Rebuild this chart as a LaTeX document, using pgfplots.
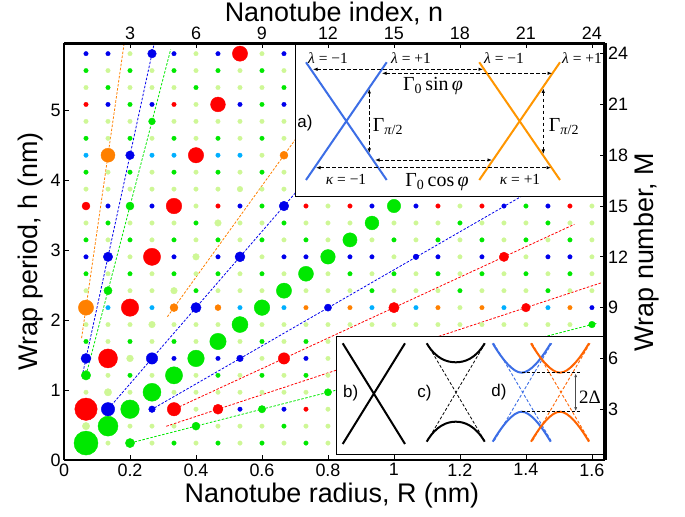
\documentclass[border=0pt]{standalone}
\usepackage[no-math]{fontspec}
\setmainfont{Liberation Sans}
\newfontfamily\tms{Liberation Serif}
\usepackage{pgfplots}
\pgfplotsset{compat=1.18}
\usepackage{pgfplotstable}
\usetikzlibrary{arrows.meta}
\definecolor{cG}{RGB}{0,232,0}
\definecolor{cL}{RGB}{206,247,150}
\definecolor{cR}{RGB}{255,0,0}
\definecolor{cB}{RGB}{0,0,235}
\definecolor{cO}{RGB}{255,128,0}
\definecolor{cC}{RGB}{0,175,255}
\definecolor{iB}{RGB}{60,110,230}
\definecolor{iO}{RGB}{255,150,0}
\definecolor{iO2}{RGB}{255,100,0}
\pgfplotsset{myax/.style={scale only axis, width=540.7bp, height=416.5bp,
  xmin=0, xmax=24.58, ymin=0, ymax=24.6, at={(64bp,57bp)}, anchor=south west}}
\pgfplotsset{bigdots/.style={scatter, only marks, mark=*,
  scatter/use mapped color={draw=#1, fill=#1},
  visualization depends on={\thisrow{r}\as\rad},
  scatter/@pre marker code/.append style={/tikz/mark size=\rad bp}}}
\pgfplotsset{smalldots/.style={only marks, mark=*, mark size=2.3bp, color=#1, mark options={line width=0.2bp}}}
\tikzset{dl/.style={line width=0.8bp, dash pattern=on 2.5bp off 1.6bp}}
\begin{document}
\begin{tikzpicture}
\path[use as bounding box] (0,0) rectangle (685bp,517bp);
\begin{axis}[myax, hide axis]
% dashed guide lines
\addplot[dl, cO] coordinates {(0.8,7.2) (2.8,25.2)};
\addplot[dl, cB] coordinates {(0.82,4.92) (4.2,25.2)};
\addplot[dl, cG] coordinates {(1.05,5.25) (4.85,24.25)};
\addplot[dl, cO] coordinates {(4.7,8.46) (11.5,20.7)};
\addplot[dl, cB] coordinates {(2.15,3.225) (11.5,17.25)};
\addplot[dl, cB] coordinates {(3.95,2.96) (21.5,16.1)};
\addplot[dl, cR] coordinates {(4.9,2.94) (23.2,13.92)};
\addplot[dl, cR] coordinates {(4.65,1.993) (24.4,10.457)};
\addplot[dl, cG] coordinates {(3.2,1.067) (24.2,8.067)};
% small dots
\addplot[smalldots=cL] coordinates {
(2,1)(4,1)(6,1)(8,1)(10,1)(12,1)
(1,2)(3,2)(4,2)(5,2)(7,2)(8,2)(9,2)(11,2)(12,2)
(6,3)(12,3)
(1,4)(2,4)(3,4)(5,4)(6,4)(7,4)(8,4)(9,4)(10,4)(11,4)
(2,5)(4,5)(6,5)(8,5)(10,5)(12,5)
(3,6)(9,6)(12,6)
(2,7)(4,7)(6,7)(8,7)(10,7)(12,7)
(1,8)(2,8)(3,8)(4,8)(5,8)(6,8)(7,8)(9,8)(10,8)(11,8)(12,8)(13,8)(14,8)(15,8)(16,8)(17,8)(18,8)(19,8)(20,8)(21,8)(22,8)(23,8)
(18,9)
(1,10)(3,10)(4,10)(5,10)(7,10)(8,10)(9,10)(11,10)(12,10)(13,10)(15,10)(16,10)(17,10)(19,10)(20,10)(21,10)(23,10)(24,10)
(2,11)(4,11)(6,11)(8,11)(10,11)(12,11)(14,11)(16,11)(18,11)(20,11)(22,11)(24,11)
(3,12)(6,12)(9,12)(15,12)(18,12)(21,12)(24,12)
(2,13)(4,13)(6,13)(8,13)(10,13)(12,13)(14,13)(16,13)(18,13)(20,13)(22,13)(24,13)
(1,14)(3,14)(4,14)(5,14)(7,14)(8,14)(9,14)(11,14)(12,14)(13,14)(15,14)(16,14)(17,14)(19,14)(20,14)(21,14)(23,14)(24,14)
(6,15)(12,15)(18,15)(24,15)
(1,16)(2,16)(3,16)(4,16)(5,16)(6,16)(7,16)(8,16)(9,16)(10,16)
(2,17)(4,17)(6,17)(8,17)(10,17)
(9,18)
(2,19)(4,19)(6,19)(8,19)(10,19)
(1,20)(2,20)(3,20)(5,20)(6,20)(7,20)(8,20)(9,20)(10,20)
(6,21)
(1,22)(3,22)(4,22)(5,22)(7,22)(8,22)(9,22)
(2,23)(4,23)(6,23)(8,23)(10,23)
(3,24)(6,24)(9,24)
};
\addplot[smalldots=cG] coordinates {
(1,1)(3,1)(5,1)(7,1)(9,1)(11,1)
(2,2)(6,2)(10,2)
(3,3)(9,3)
(4,4)(12,4)
(1,5)(3,5)(5,5)(7,5)(9,5)(11,5)
(6,6)
(1,7)(3,7)(5,7)(7,7)(9,7)(11,7)
(8,8)(24,8)
(9,9)
(2,10)(6,10)(10,10)(14,10)(18,10)(22,10)
(1,11)(3,11)(5,11)(7,11)(9,11)(11,11)(13,11)(15,11)(17,11)(19,11)(21,11)(23,11)
(12,12)
(1,13)(3,13)(5,13)(7,13)(9,13)(11,13)(13,13)(15,13)(17,13)(19,13)(21,13)(23,13)
(2,14)(6,14)(10,14)(14,14)(18,14)(22,14)
(3,15)(9,15)(15,15)(21,15)
(1,17)(3,17)(5,17)(7,17)(9,17)
(1,19)(3,19)(5,19)(7,19)(9,19)
(4,20)
(3,21)(9,21)
(2,22)(6,22)(10,22)
(1,23)(3,23)(5,23)(7,23)(9,23)
};
\addplot[smalldots=cR] coordinates {
(1,3)(5,3)(7,3)(11,3)(2,6)(10,6)(3,9)(15,9)(21,9)(4,12)(20,12)
(1,15)(5,15)(7,15)(11,15)(13,15)(17,15)(19,15)(23,15)(6,18)(1,21)(5,21)(7,21)(8,24)
};
\addplot[smalldots=cB] coordinates {
(2,3)(4,3)(8,3)(10,3)(1,6)(4,6)(5,6)(7,6)(8,6)(11,6)(6,9)(12,9)(24,9)
(1,12)(2,12)(5,12)(7,12)(8,12)(10,12)(11,12)(13,12)(14,12)(16,12)(17,12)(19,12)(22,12)(23,12)
(2,15)(4,15)(8,15)(10,15)(14,15)(16,15)(20,15)(22,15)(3,18)
(2,21)(4,21)(8,21)(10,21)(1,24)(2,24)(4,24)(5,24)(7,24)(10,24)
};
\addplot[smalldots=cO] coordinates {
(1,9)(5,9)(7,9)(11,9)(13,9)(17,9)(19,9)(23,9)(2,18)(10,18)
};
\addplot[smalldots=cC] coordinates {
(2,9)(4,9)(8,9)(10,9)(14,9)(16,9)(20,9)(22,9)(1,18)(4,18)(5,18)(7,18)(8,18)
};
% enlarged dots
\addplot[bigdots=cL] table[x=n,y=M] {
n M r
1 2 3.7
2 4 3.7
3 6 3.4
4 8 3.3
5 10 3.3
6 12 3.3
7 14 3.3
8 16 2.8
};
\addplot[bigdots=cG] table[x=n,y=M] {
n M r
1 1 12
2 2 10
3 3 9.3
4 4 9
5 5 8.6
6 6 8.3
7 7 8.2
8 8 8
9 9 7.8
10 10 7.6
11 11 7.5
12 12 7.3
13 13 7.1
14 14 6.9
15 15 6.7
1 5 4.7
2 10 4.1
3 15 4
4 20 3.4
3 1 4.6
6 2 4
9 3 3.7
12 4 3.6
24 8 3.3
};
\addplot[bigdots=cR] table[x=n,y=M] {
n M r
1 3 11.2
2 6 9.5
3 9 8.7
4 12 8.6
5 15 7.8
6 18 7.7
7 21 7.4
8 24 7.6
5 3 6.7
10 6 5.7
15 9 5.2
20 12 4.7
7 3 5
21 9 4.3
1 15 4
};
\addplot[bigdots=cB] table[x=n,y=M] {
n M r
2 3 6.7
4 6 5.7
6 9 5.1
8 12 5
10 15 4.8
1 6 5
2 12 4.7
3 18 4.3
4 24 4.3
4 3 3.3
8 6 3.3
12 9 3.6
16 12 2.8
};
\addplot[bigdots=cO] table[x=n,y=M] {
n M r
1 9 7.6
2 18 7
5 9 4
10 18 4
7 9 3
};
\end{axis}
\begin{scope}[shift={(0bp,517bp)}, x=1bp, y=-1bp]
% inset a
\draw[fill=white, line width=0.8bp] (295,44) rectangle (603,196);
\draw[iB, line width=2bp] (306,62.3) -- (386.7,180) (306,180) -- (386.7,62.3);
\draw[iO, line width=2bp] (479.3,62.3) -- (560,180) (479.3,180) -- (560,62.3);
\begin{scope}[line width=0.8bp, dash pattern=on 3.5bp off 2.5bp, {Latex[length=4.5bp,width=3.5bp]}-{Latex[length=4.5bp,width=3.5bp]}]
\draw (313,69.3) -- (483,69.3);
\draw (382,73.3) -- (552,73.3);
\draw (375,160) -- (492,160);
\draw (316,167.7) -- (551,167.7);
\draw (369.3,89) -- (369.3,153);
\draw (543.3,88.5) -- (543.3,154);
\end{scope}
\begin{scope}[font=\tms\fontsize{15.5}{15.5}\selectfont]
\node at (328,58.5) {\textit{λ} = −1};
\node at (411,58.5) {\textit{λ} = +1};
\node at (504,58.5) {\textit{λ} = −1};
\node at (582,58.5) {\textit{λ} = +1};
\node at (346,179) {\textit{κ} = −1};
\node at (520,179) {\textit{κ} = +1};
\end{scope}
\begin{scope}[font=\tms\fontsize{20}{20}\selectfont]
\node at (433,86) {Γ\textsubscript{0}\,sin\,\textit{φ}};
\node at (437,182) {Γ\textsubscript{0}\,cos\,\textit{φ}};
\node at (388,127) {Γ\textsubscript{\textit{π}/2}};
\node at (564,127) {Γ\textsubscript{\textit{π}/2}};
\end{scope}
\node[font=\fontsize{17}{17}\selectfont] at (305,123) {a)};
% inset b-d
\draw[fill=white, line width=0.8bp] (336.7,336) rectangle (603.3,454);
\draw[line width=2bp] (342.7,343.3) -- (405,444) (342.7,444) -- (405,343.3);
\draw[line width=0.8bp, dash pattern=on 3bp off 2bp] (427,343.5) -- (485,441.5) (485,343.5) -- (427,441.5);
\draw[line width=2bp] (426.7,343.3) .. controls (436,359) and (447,362.3) .. (455.7,362.3) .. controls (464.4,362.3) and (475.4,359) .. (484.7,343.3);
\draw[line width=2bp] (426.7,441.7) .. controls (436,425.7) and (447,421.7) .. (455.7,421.7) .. controls (464.4,421.7) and (475.4,425.7) .. (484.7,441.7);
% d) blue
\draw[iB, line width=0.9bp, dash pattern=on 3bp off 2bp] (493.7,343.3) -- (551.7,441.7) (551.7,343.3) -- (493.7,441.7);
\draw[iB, line width=2bp] (492.7,343.3) .. controls (502,359) and (513,372.7) .. (521.7,372.7) .. controls (530.4,372.7) and (541.4,359) .. (550.7,343.3);
\draw[iB, line width=2bp] (492.7,441.7) .. controls (502,426) and (513,411.7) .. (521.7,411.7) .. controls (530.4,411.7) and (541.4,426) .. (550.7,441.7);
% d) orange
\draw[iO2, line width=0.9bp, dash pattern=on 3bp off 2bp] (532,343.3) -- (590,441.7) (590,343.3) -- (532,441.7);
\draw[iO2, line width=2bp] (531,343.3) .. controls (540.3,359) and (551.3,372.7) .. (560,372.7) .. controls (568.7,372.7) and (579.7,359) .. (589,343.3);
\draw[iO2, line width=2bp] (531,441.7) .. controls (540.3,426) and (551.3,411.7) .. (560,411.7) .. controls (568.7,411.7) and (579.7,426) .. (589,441.7);
\draw[line width=0.8bp, dash pattern=on 3bp off 2bp] (521.7,372.7) -- (580,372.7) (521.7,411.7) -- (580,411.7);
\draw[line width=0.8bp, black!70, {Latex[length=4bp,width=3bp]}-{Latex[length=4bp,width=3bp]}] (575.7,373.2) -- (575.7,411.2);
\node[font=\tms\fontsize{19}{19}\selectfont] at (590,397) {2Δ};
\begin{scope}[font=\fontsize{17}{17}\selectfont]
\node at (350.7,393) {b)};
\node at (424.5,393) {c)};
\node at (499,392) {d)};
\end{scope}
% axis titles
\begin{scope}[font=\fontsize{27}{27}\selectfont]
\node at (334,13) {Nanotube index, n};
\node at (332,496) {Nanotube radius, R (nm)};
\node[rotate=90] at (31,251.5) {Wrap period, h (nm)};
\node[rotate=90] at (647,252) {Wrap number, M};
\end{scope}
\end{scope}
\begin{axis}[myax, axis x line=bottom, axis y line=left,
  axis line style={-, line width=1.6bp}, tick align=inside,
  major tick length=5bp, tick style={line width=0.8bp, black},
  xtick={0,3,6,9,12,15,18,21,24},
  xticklabels={0,0.2,0.4,0.6,0.8,1,1.2,1.4,1.6},
  ytick={0,4.1288,8.2576,12.3865,16.5153,20.6441},
  yticklabels={0,1,2,3,4,5},
  ticklabel style={font=\fontsize{18}{18}\selectfont}]
\end{axis}
\begin{axis}[myax, axis x line=top, axis y line=right,
  axis line style={-, line width=3.6bp}, tick align=inside,
  major tick length=5bp, tick style={line width=0.8bp, black},
  xtick={3,6,9,12,15,18,21,24},
  xticklabels={3,6,9,12,15,18,21,24},
  ytick={3,6,9,12,15,18,21,24},
  yticklabels={3,6,9,12,15,18,21,24},
  ticklabel style={font=\fontsize{18}{18}\selectfont}]
\end{axis}
\end{tikzpicture}
\end{document}
